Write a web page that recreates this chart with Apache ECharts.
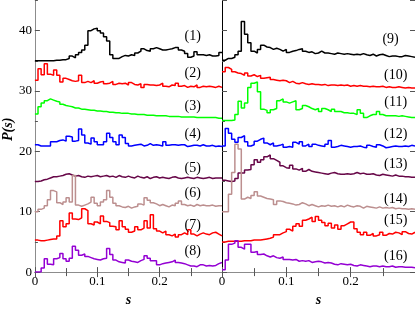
<!DOCTYPE html>
<html><head><meta charset="utf-8">
<script src="https://cdn.jsdelivr.net/npm/echarts@6/dist/echarts.min.js"></script>
<style>html,body{margin:0;padding:0;background:#fff}#c{width:415px;height:312px}</style>
</head><body><div id="c"></div>
<script>
const BIN = 0.005;
const xTickLabels = ['0', '0.1', '0.2'];
const yTickLabels = ['0', '10', '20', '30', '40'];
const labels = ['(1)','(2)','(3)','(4)','(5)','(6)','(7)','(8)','(9)','(10)','(11)','(12)','(13)','(14)','(15)','(16)'];
const colors = ['#000000','#ff0000','#00ff00','#0000ff','#670748','#bc8f8f','#ff0000','#9400d3',
                '#000000','#ff0000','#00ff00','#0000ff','#670748','#bc8f8f','#ff0000','#9400d3'];

const s1 = [35.0,35.0,35.0,35.0,35.0,35.0,35.1,35.1,35.2,35.2,35.4,35.8,35.5,36.0,36.4,36.8,37.6,40.0,40.3,40.4,40.0,39.6,39.0,38.3,36.0,35.4,35.4,35.7,35.9,35.8,36.0,35.9,36.3,36.6,37.0,36.7,36.6,37.0,37.2,37.0,36.8,36.8,36.9,37.0,37.2,37.2,36.8,36.6,36.2,35.6,35.8,36.5,36.0,36.0,35.9,36.0,35.8,35.8,35.9,36.4];
const s2 = [31.8,33.7,32.7,34.5,32.8,32.6,33.5,32.6,31.5,32.1,31.9,31.7,31.6,31.7,32.6,31.4,31.6,31.4,31.7,31.3,31.5,31.6,31.2,31.3,31.6,31.1,31.3,31.2,31.3,31.0,31.4,31.1,31.0,31.2,30.6,31.1,31.0,31.0,30.9,31.0,31.3,30.8,30.7,31.0,30.9,31.3,30.8,30.9,30.6,30.8,30.7,31.0,30.6,30.8,30.7,30.8,30.7,30.6,30.8,30.6];
const s3 = [26.2,27.4,28.0,28.4,28.7,28.5,28.3,28.2,27.8,27.6,27.5,27.4,27.2,27.2,27.0,27.0,26.9,26.8,26.8,26.7,26.7,26.6,26.6,26.5,26.5,26.4,26.4,26.3,26.3,26.3,26.2,26.2,26.1,26.1,26.1,26.0,26.0,26.0,25.9,25.9,25.9,25.9,25.8,25.8,25.8,25.8,25.7,25.7,25.7,25.7,25.7,25.6,25.6,25.6,25.6,25.6,25.6,25.6,25.5,25.5];
const s4 = [21.1,20.9,20.9,20.9,20.9,21.6,21.6,21.8,21.9,21.7,22.5,22.4,21.7,21.8,23.7,22.7,21.4,21.2,22.2,21.6,21.1,21.1,21.6,23.0,22.3,21.6,21.1,22.7,22.3,21.3,20.9,21.0,21.1,21.2,20.9,21.0,21.3,21.0,21.1,21.0,20.9,21.6,21.0,21.1,21.1,21.0,21.1,21.1,20.8,20.9,21.0,21.0,20.9,21.1,20.9,20.9,21.0,20.8,20.9,20.8];
const s5 = [15.0,15.1,15.3,15.4,15.6,15.8,15.8,15.9,16.0,16.2,16.3,16.1,15.9,16.0,15.8,15.7,15.9,15.8,15.9,16.0,15.8,15.9,16.0,15.8,15.9,15.7,16.0,15.8,15.7,15.9,15.7,15.6,15.9,15.7,15.6,15.8,15.5,15.7,15.8,15.6,15.7,15.6,15.5,15.7,15.8,15.6,15.5,15.6,15.7,15.6,15.5,15.7,15.6,15.5,15.6,15.7,15.5,15.6,15.6,15.6];
const s6 = [10.0,10.4,10.6,11.0,12.0,13.5,13.3,11.5,11.2,11.6,12.3,11.6,16.0,11.1,10.9,11.1,11.3,11.6,12.4,11.4,11.0,11.6,12.0,13.5,12.4,11.4,11.0,10.8,10.7,10.9,10.6,10.8,10.9,11.3,11.1,12.3,11.9,11.5,11.3,11.0,11.2,11.0,10.8,11.1,11.0,11.4,11.8,11.2,11.0,11.1,10.9,11.2,11.0,11.1,11.0,11.0,11.1,10.9,11.0,11.0];
const s7 = [5.3,5.2,5.2,5.3,5.4,5.5,5.5,6.0,8.5,7.5,8.0,9.8,8.8,8.7,9.0,10.5,10.2,8.0,7.8,8.3,8.0,9.3,8.4,8.2,7.6,7.5,7.0,8.5,7.5,7.1,6.6,6.8,7.5,7.0,7.3,8.5,7.3,9.5,7.2,6.8,6.5,6.8,6.2,6.0,6.3,5.8,6.2,6.5,6.2,7.0,6.3,6.0,6.3,6.5,6.3,6.2,6.5,6.6,6.3,6.0];
const s8 = [0.0,0.0,0.7,2.2,1.3,1.2,2.2,2.4,3.1,2.2,1.8,2.3,4.3,3.6,2.8,3.0,2.6,2.4,2.2,2.1,2.0,2.2,2.3,3.9,2.9,2.0,1.7,1.6,1.5,2.0,1.8,1.7,1.6,1.9,2.1,2.7,2.3,1.9,1.9,1.2,1.4,1.5,1.6,1.7,2.0,1.6,1.5,1.4,1.2,1.0,1.0,0.9,1.2,1.2,1.0,1.1,1.0,1.1,1.4,1.6];
const s9 = [35.1,35.4,35.4,35.6,36.0,36.6,41.5,39.4,38.0,36.6,36.3,36.9,37.6,37.3,37.2,36.9,37.1,36.9,36.6,36.9,36.4,36.6,36.7,36.9,37.0,36.6,36.4,36.5,36.2,36.3,36.6,36.3,36.3,36.2,36.1,36.3,36.2,36.1,36.2,36.1,36.0,36.1,36.0,36.2,36.0,35.9,36.1,35.8,36.0,36.1,35.9,35.7,35.8,35.8,35.7,35.7,35.9,35.8,35.7,35.6];
const s10 = [33.2,33.9,33.6,33.2,33.0,32.9,32.6,33.0,32.5,32.7,32.4,32.6,32.1,32.2,32.3,31.9,31.8,31.7,31.8,31.7,31.4,31.6,31.3,31.2,31.4,31.2,31.1,31.2,31.1,31.1,31.0,31.1,30.9,31.0,31.0,30.9,31.0,30.9,31.0,30.8,30.9,30.8,30.9,30.8,30.8,30.7,30.8,30.7,30.7,30.8,30.6,30.7,30.6,30.6,30.7,30.6,30.5,30.6,30.5,30.5];
const s11 = [25.1,25.1,25.1,25.2,26.1,28.3,27.2,28.0,30.6,31.3,31.5,29.9,27.0,26.8,26.4,26.9,27.1,28.4,28.7,28.2,28.0,28.2,28.4,26.9,27.1,27.6,27.4,27.1,26.9,27.1,26.6,27.1,26.9,26.6,27.0,26.6,26.6,26.4,26.4,26.3,26.3,26.1,26.9,26.3,25.6,25.9,26.1,26.1,26.6,26.1,25.9,25.9,25.9,25.9,25.8,25.9,25.8,25.7,25.6,25.6];
const s12 = [20.9,23.8,23.0,22.0,21.5,22.3,22.6,21.6,20.9,21.1,21.7,22.0,22.2,21.4,21.1,21.4,20.9,21.0,21.2,20.7,20.8,20.7,21.5,21.2,21.6,20.9,21.2,20.8,21.2,21.0,20.9,20.8,21.2,21.8,20.7,20.8,21.0,20.9,20.8,20.7,20.8,20.8,20.9,20.7,20.6,21.0,20.8,20.7,21.1,20.9,20.6,20.7,20.8,20.9,20.8,20.8,20.9,20.8,21.0,20.9];
const s13 = [15.2,15.1,15.0,15.1,15.5,16.4,16.4,16.9,17.0,17.8,18.6,18.2,18.6,19.1,19.4,18.8,18.5,18.2,17.6,17.3,17.2,17.7,17.1,16.9,17.2,16.7,17.0,16.7,16.6,16.5,16.4,16.3,16.2,16.4,16.5,16.3,16.2,16.2,16.3,16.2,16.3,16.5,16.3,16.4,16.2,16.2,16.3,16.1,16.0,16.2,16.1,16.0,15.9,16.1,15.9,15.9,15.8,15.8,15.7,15.7];
const s14 = [10.0,10.0,12.9,16.5,21.2,20.4,12.1,12.4,12.2,12.7,13.3,12.6,12.4,12.2,12.1,12.0,11.2,11.8,11.7,11.5,11.4,11.3,11.1,11.2,11.5,11.3,11.0,11.2,11.0,10.8,11.0,10.9,11.1,10.9,11.0,10.8,11.0,10.8,11.1,10.9,10.8,11.0,10.9,10.6,10.9,10.8,10.7,10.6,10.8,10.6,10.7,10.6,10.7,10.5,10.6,10.5,10.5,10.4,10.5,10.4];
const s15 = [5.0,5.1,5.1,5.1,5.1,5.1,5.2,5.2,5.2,5.3,5.3,5.3,5.4,5.5,5.6,5.8,6.2,6.2,6.5,6.7,7.1,6.8,7.6,8.0,7.6,8.6,8.8,9.1,8.4,9.2,8.6,8.2,7.7,8.1,7.3,7.8,7.1,7.7,8.0,8.3,8.3,7.2,6.6,6.2,6.6,6.1,6.4,6.0,6.2,6.6,6.1,6.4,6.3,6.6,6.5,6.2,6.7,6.4,6.3,6.6];
const s16 = [0.4,2.0,4.6,4.8,5.2,4.1,3.8,4.6,4.6,3.3,3.4,2.9,3.0,2.7,2.5,2.7,2.4,2.3,2.5,2.1,2.1,2.0,2.1,1.8,1.9,1.8,1.9,1.6,1.7,1.8,1.7,1.5,1.6,1.5,1.3,1.2,1.4,1.3,1.2,1.3,1.1,1.0,1.2,1.1,1.0,0.9,1.0,1.0,0.9,1.0,0.9,0.9,1.0,0.8,0.9,0.9,0.8,0.8,0.8,0.7];

const leftSeries = [s1,s2,s3,s4,s5,s6,s7,s8];
const rightSeries = [s9,s10,s11,s12,s13,s14,s15,s16];
// label anchor positions (data units) for the (n) annotations
const labelLeft = [[0.253,39.1],[0.253,32.9],[0.253,27.4],[0.253,22.8],[0.253,17.2],[0.253,13.0],[0.253,7.8],[0.253,3.5]];
const labelRight = [[0.262,38.6],[0.27,32.6],[0.27,28.1],[0.27,22.8],[0.27,17.8],[0.27,12.1],[0.27,8.6],[0.27,2.6]];

const FONT = 'Liberation Serif';
function toPairs(arr){
  const out = arr.map((v,i)=>[+(i*BIN).toFixed(4), v]);
  out.push([+(arr.length*BIN).toFixed(4), arr[arr.length-1]]);
  return out;
}
function mkSeries(arr, idx, xi, yi, lab){
  return {
    type:'line', step:'end', symbol:'none', xAxisIndex: xi, yAxisIndex: yi,
    data: toPairs(arr), lineStyle:{color:colors[idx], width:1.5}, itemStyle:{color:colors[idx]},
    clip:true, silent:true,
    markPoint:{symbol:'circle', symbolSize:0, silent:true,
      label:{show:true, position:'inside', formatter:labels[idx], color:'#000', fontFamily:FONT, fontSize:14},
      data:[{coord:lab}]}
  };
}
const series = [];
leftSeries.forEach((a,i)=>series.push(mkSeries(a,i,0,0,labelLeft[i])));
rightSeries.forEach((a,i)=>series.push(mkSeries(a,i+8,2,3,labelRight[i])));

const gray = '#8c8c8c';
function xAx(grid, pos, showLabel, lineColor){
  return {type:'value', gridIndex:grid, position:pos, min:0, max:0.3, interval:0.1,
    name: pos==='bottom' ? 's' : '', nameLocation:'middle', nameGap:15,
    nameTextStyle:{fontFamily:FONT, fontSize:14, fontStyle:'italic', fontWeight:'bold', color:'#000'},
    axisLine:{show:true, lineStyle:{color:lineColor, width:1}},
    axisTick:{show:true, inside:true, length:5, lineStyle:{color:'#555'}},
    minorTick:{show:true, splitNumber:2, length:4, lineStyle:{color:'#555'}},
    splitLine:{show:false}, minorSplitLine:{show:false},
    axisLabel:{show:showLabel, showMaxLabel:false, margin:3, fontFamily:FONT, fontSize:13, color:'#000',
      formatter:v=>{const i=Math.round(v*10); return xTickLabels[i]!==undefined?xTickLabels[i]:'';}}
  };
}
function yAx(grid, pos, interval, len, showLabel, showLine, lineColor, name){
  return {type:'value', gridIndex:grid, position:pos, min:0, max:45, interval:interval,
    name: name||'', nameLocation:'middle', nameGap:18,
    nameTextStyle:{fontFamily:FONT, fontSize:14, fontStyle:'italic', fontWeight:'bold', color:'#000', padding:[0,0,0,14]},
    axisLine:{show:showLine, onZero:false, lineStyle:{color:lineColor, width:1}},
    axisTick:{show:len>0, inside:true, length:len, lineStyle:{color:'#555'}},
    splitLine:{show:false},
    axisLabel:{show:showLabel, showMaxLabel:false, margin:3, fontFamily:FONT, fontSize:13, color:'#000',
      formatter:v=>{const i=Math.round(v/10); return (v%10===0 && yTickLabels[i]!==undefined)?yTickLabels[i]:'';}}
  };
}
const option = {
  animation:false,
  backgroundColor:'#fff',
  grid:[{left:31, right:193, top:0.5, bottom:23}, {left:222, right:0, top:0.5, bottom:23}],
  xAxis:[xAx(0,'bottom',true,gray), xAx(0,'top',false,gray), xAx(1,'bottom',true,gray), xAx(1,'top',false,gray)],
  yAxis:[
    yAx(0,'left',10,5,true,true,gray,'P(s)'),
    yAx(0,'left',5,3,false,false,gray),
    yAx(0,'right',10,0,false,false,gray),
    yAx(1,'left',10,5,false,true,'#000'),
    yAx(1,'left',5,3,false,false,'#000'),
    yAx(1,'right',10,5,false,true,gray)
  ],
  series: series
};
const chart = echarts.init(document.getElementById('c'), null, {renderer:'canvas'});
chart.setOption(option);
</script></body></html>
